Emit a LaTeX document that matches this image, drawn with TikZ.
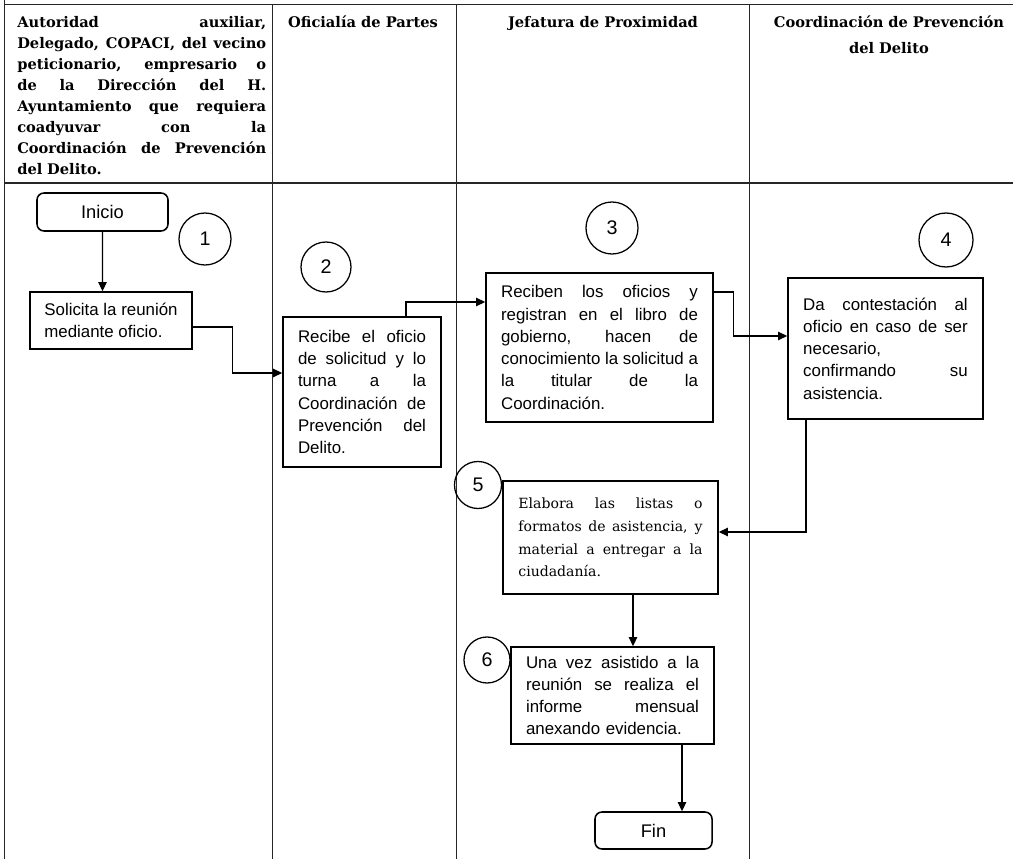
\documentclass[tikz,border=0pt]{standalone}
\usepackage{fontspec}
\setmainfont{Liberation Sans}
\newfontfamily\cambria{DejaVu Serif}
\usetikzlibrary{arrows.meta, calc}

% one justified line of a paragraph (undo the fixed word space of align=left)
\newcommand{\jline}[1]{\makebox[\linewidth][s]{\spaceskip=0pt\xspaceskip=0pt\relax #1}\\}

\begin{document}
\begin{tikzpicture}[
  x=0.025cm, y=-0.025cm,
  lane/.style={line width=0.7pt, draw=black!85},
  hdr/.style={inner sep=0pt, align=left, font=\cambria\bfseries\fontsize{10.4}{14.9}\selectfont},
  proc/.style={draw, line width=1.1pt, fill=white, inner sep=0pt, align=left,
    font=\fontsize{12}{15.8}\selectfont},
  term/.style={draw, line width=1.1pt, fill=white, rounded corners=5pt, inner sep=0pt,
    font=\fontsize{13}{15}\selectfont},
  num/.style={draw, circle, line width=0.9pt, inner sep=0pt, font=\fontsize{14}{16}\selectfont},
  flow/.style={-{Triangle[length=6.5pt,width=6pt]}, line width=0.9pt}
]
\useasboundingbox (0,0) rectangle (1013,859);

% swimlane table
\draw[lane] (4,0) -- (4,859);
\draw[lane] (4,4) -- (1013,4);
\draw[lane, line width=1.3pt] (4,183) -- (1013,183);
\foreach \x in {272,456,749}
  \draw[lane] (\x,4) -- (\x,859);

% lane titles
\node[hdr, anchor=base west, text width=177pt] (h1) at (17,28) {%
  \jline{Autoridad auxiliar,}
  \jline{Delegado, COPACI, del vecino}
  \jline{peticionario, empresario o}
  \jline{de la Dirección del H.}
  \jline{Ayuntamiento que requiera}
  \jline{coadyuvar con la}
  \jline{Coordinación de Prevención}
  del Delito.};
\node[hdr, anchor=base] (h2) at (363,28) {Oficialía de Partes};
\node[hdr, anchor=base] (h3) at (603,28) {Jefatura de Proximidad};
\node[hdr, anchor=base, text width=190pt, align=center,
  font=\cambria\bfseries\fontsize{10.4}{17.8}\selectfont] (h4) at (889,28)
  {Coordinación de Prevención\\del Delito};

% step numbers
\node[num, minimum size=1.3cm]   (n1) at (205,239) {1};
\node[num, minimum size=1.25cm]  (n2) at (326,267) {2};
\node[num, minimum size=1.3cm]   (n3) at (612,228) {3};
\node[num, minimum size=1.35cm]  (n4) at (946,240) {4};
\node[num, minimum size=1.175cm] (n5) at (478,485) {5};
\node[num, minimum size=1.15cm]  (n6) at (487,660) {6};

% steps
\node[term, minimum width=3.275cm, minimum height=0.95cm] (ini) at (102.5,212) {Inicio};
\node[proc, minimum width=4.05cm, minimum height=1.425cm] (b1) at (111,320.5)
  {Solicita la reunión\\mediante oficio.};
\node[proc, minimum width=3.95cm, minimum height=3.75cm, text width=91pt] (b2) at (362,392) {%
  \jline{Recibe el oficio}
  \jline{de solicitud y lo}
  \jline{turna a la}
  \jline{Coordinación de}
  \jline{Prevención del}
  Delito.};
\node[proc, minimum width=5.675cm, minimum height=3.725cm, text width=140pt] (b3) at (599.5,347.5) {%
  \jline{Reciben los oficios y}
  \jline{registran en el libro de}
  \jline{gobierno, hacen de}
  \jline{conocimiento la solicitud a}
  \jline{la titular de la}
  Coordinación.};
\node[proc, minimum width=4.875cm, minimum height=3.525cm, text width=117pt] (b4) at (885.5,348.5) {%
  \jline{Da contestación al}
  \jline{oficio en caso de ser}
  necesario,\\
  \jline{confirmando su}
  asistencia.};
\node[proc, minimum width=5.375cm, minimum height=2.825cm, text width=131pt,
  font=\cambria\fontsize{10}{16.1}\selectfont] (b5) at (610.5,537.5) {%
  \jline{Elabora las listas o}
  \jline{formatos de asistencia, y}
  \jline{material a entregar a la}
  ciudadanía.};
\node[proc, minimum width=5.075cm, minimum height=2.425cm, text width=123pt] (b6) at (612.5,695.5) {%
  \jline{Una vez asistido a la}
  \jline{reunión se realiza el}
  \jline{informe mensual}
  anexando evidencia.};
\node[term, minimum width=2.925cm, minimum height=0.925cm] (fin) at (653.5,830.5) {Fin};

% connectors
\draw[flow] (ini.south) -- ($(b1.north)+(-8.5,0)$);
\draw[flow] ($(b1.east)+(0,6.5)$) -- ++(40,0) |- ($(b2.west)+(0,-19)$);
\draw[flow] ($(b2.north)+(44,0)$) |- ($(b3.west)+(0,-45.5)$);
\draw[flow] ($(b3.east)+(0,-55.5)$) -- ++(20,0) |- ($(b4.west)+(0,-12.5)$);
\draw[flow] ($(b4.south)+(-79.5,0)$) |- ($(b5.east)+(0,-5.5)$);
\draw[flow] ($(b5.south)+(22.5,0)$) -- ($(b6.north)+(20.5,0)$);
\draw[flow] ($(b6.south)+(69.5,0)$) -- ($(fin.north)+(28.5,0)$);

\end{tikzpicture}
\end{document}
